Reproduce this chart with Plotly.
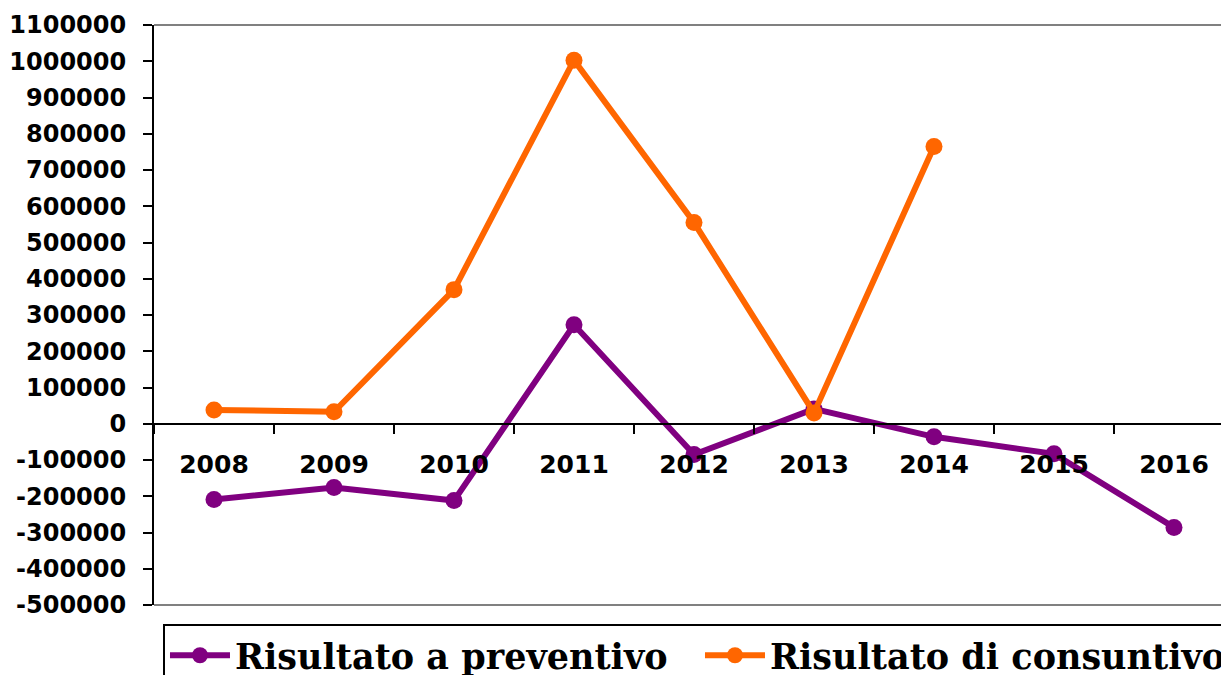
import plotly.graph_objects as go

years = ["2008", "2009", "2010", "2011", "2012", "2013", "2014", "2015", "2016"]
preventivo = [-209000, -176000, -212000, 273000, -85000, 41000, -36000, -83000, -286000]
consuntivo = [38000, 33000, 370000, 1003000, 555000, 30000, 765000, None, None]
y_ticks = [-500000, -400000, -300000, -200000, -100000, 0, 100000, 200000,
           300000, 400000, 500000, 600000, 700000, 800000, 900000, 1000000, 1100000]
y_tick_labels = [str(v) for v in y_ticks]  # plain hyphen minus, as in the original

PURPLE = "#800080"
ORANGE = "#FF6600"

fig = go.Figure()
fig.add_trace(go.Scatter(
    x=years, y=preventivo, name="Risultato a preventivo", mode="lines+markers",
    line=dict(color=PURPLE, width=6), marker=dict(color=PURPLE, size=17),
    cliponaxis=False,
))
fig.add_trace(go.Scatter(
    x=years, y=consuntivo, name="Risultato di consuntivo", mode="lines+markers",
    line=dict(color=ORANGE, width=6), marker=dict(color=ORANGE, size=17),
    cliponaxis=False,
))

ymin, ymax = -500000, 1100000
fig.update_layout(
    width=1229, height=675,
    margin=dict(l=146, r=0, t=17, b=78, autoexpand=False),
    paper_bgcolor="white", plot_bgcolor="white",
    showlegend=True,
    legend=dict(
        orientation="h", x=0.0083, xanchor="left", y=-0.0328, yanchor="top",
        bordercolor="black", borderwidth=2,
        font=dict(family="DejaVu Serif", size=35, color="black", weight="bold"),
        itemwidth=60, tracegroupgap=0,
        entrywidth=460, entrywidthmode="pixels",
    ),
    xaxis=dict(
        type="category", range=[-0.5, 8.525], automargin=False,
        anchor="free", position=(0 - ymin) / (ymax - ymin),
        showline=True, linecolor="black", linewidth=2,
        ticks="outside", tickson="boundaries", ticklen=9, tickwidth=2, tickcolor="black",
        ticklabelstandoff=18,
        tickfont=dict(family="DejaVu Sans", size=25, color="black", weight="bold"),
        showgrid=False, zeroline=False,
    ),
    yaxis=dict(
        range=[ymin, ymax], tickmode="array", tickvals=y_ticks, ticktext=y_tick_labels,
        automargin=False,
        showline=True, linecolor="black", linewidth=2,
        ticks="outside", ticklen=9, tickwidth=2, tickcolor="black",
        ticklabelstandoff=12,
        tickfont=dict(family="DejaVu Sans", size=24, color="black", weight="bold"),
        showgrid=False, zeroline=False,
    ),
    shapes=[
        dict(type="line", xref="paper", yref="paper", x0=0, x1=1, y0=1, y1=1,
             line=dict(color="#808080", width=2)),
        dict(type="line", xref="paper", yref="paper", x0=0, x1=1, y0=0, y1=0,
             line=dict(color="#808080", width=2)),
    ],
)

fig.write_html("out.html")
